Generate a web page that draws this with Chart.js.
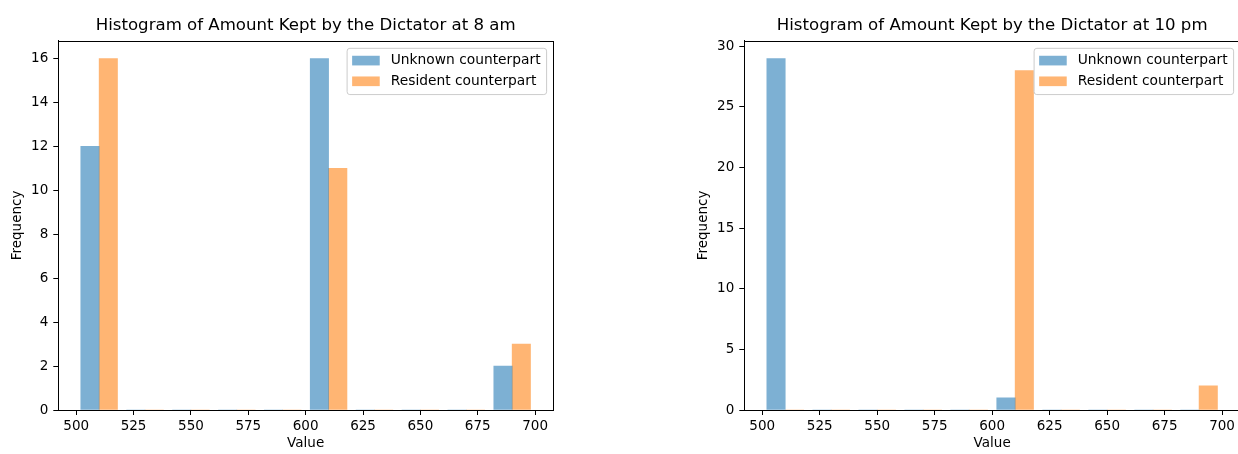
<!DOCTYPE html>
<html><head><meta charset="utf-8">
<script src="https://cdn.jsdelivr.net/npm/chart.js@4.4.0/dist/chart.umd.min.js"></script>
<style>
html,body{margin:0;padding:0;background:#fff;overflow:hidden;width:1238px;height:454px;position:relative;}
.box{position:absolute;top:0;height:454px;width:560px;}
#w1{left:0}
#w2{left:686px}
</style></head><body>
<div class="box" id="w1"><canvas id="c1" width="560" height="454"></canvas></div>
<div class="box" id="w2"><canvas id="c2" width="560" height="454"></canvas></div>
<script>
// ---- data ----
const binEdges = [500,520,540,560,580,600,620,640,660,680,700];
const seriesLabels = ['Unknown counterpart','Resident counterpart'];
const unknown8am   = [12,0,0,0,0,16,0,0,0,2];
const resident8am  = [16,0,0,0,0,11,0,0,0,3];
const unknown10pm  = [29,0,0,0,0,1,0,0,0,0];
const resident10pm = [0,0,0,0,0,28,0,0,0,2];
const titles = ['Histogram of Amount Kept by the Dictator at 8 am','Histogram of Amount Kept by the Dictator at 10 pm'];
const xTitle = 'Value';
const yTitle = 'Frequency';
const xStep = 25;
const yStep8am = 2;
const yStep10pm = 5;

// ---- styles ----
const FONT = 'DejaVu Sans';
const colors = ['rgba(31,119,180,0.58)','rgba(255,127,14,0.58)'];
Chart.defaults.font.family = FONT;
Chart.defaults.color = '#000';

function histChart(id, title, seriesA, seriesB, yStep, rightPad){
  // matplotlib-style side-by-side histogram layout (rwidth 0.8)
  const n = 2;
  const bars = [seriesA, seriesB];
  const datasets = bars.map((counts, k) => {
    const data = counts.map((c, i) => {
      const lo = binEdges[i], hi = binEdges[i+1], dx = hi - lo;
      const tot = dx * 0.8, dw = tot / n;
      const center = (lo + hi) / 2 - tot / 2 + dw / 2 + k * dw;
      return {x: center, y: c};
    });
    return {label: seriesLabels[k], data, backgroundColor: colors[k], borderWidth: 0,
            barPercentage: 1, categoryPercentage: 1, grouped: false};
  });
  const dx0 = binEdges[1] - binEdges[0];
  const dataMin = binEdges[0] + dx0 * 0.1;
  const dataMax = binEdges[binEdges.length-1] - dx0 * 0.1;
  const margin = (dataMax - dataMin) * 0.05;
  const yMax = Math.max(...seriesA, ...seriesB) * 1.05;
  const tickFont = {family: FONT, size: 13.5};

  const framePlugin = {
    id: 'frameLegend',
    afterDraw(chart){
      const ctx = chart.ctx, a = chart.chartArea;
      ctx.save();
      ctx.strokeStyle = '#000'; ctx.lineWidth = 1;
      ctx.strokeRect(Math.round(a.left)+0.5, Math.round(a.top)+0.5, Math.round(a.right)-Math.round(a.left), Math.round(a.bottom)-Math.round(a.top));
      // legend (upper right, inside axes)
      const fs = 13.8;
      ctx.font = fs + 'px "' + FONT + '"';
      const pad = 0.4*fs, hl = 2*fs, hh = 0.7*fs, htp = 0.8*fs, lsp = 0.45*fs, axp = 0.5*fs, rowH = 14.5;
      const tw = Math.max(...seriesLabels.map(s => ctx.measureText(s).width));
      const bw = 2*pad + hl + htp + tw;
      const bh = 2*pad + seriesLabels.length*rowH + (seriesLabels.length-1)*lsp;
      const bx = a.right - axp - bw, by = a.top + axp;
      ctx.beginPath();
      ctx.roundRect(bx+0.5, by+0.5, bw, bh, 0.2*fs);
      ctx.fillStyle = 'rgba(255,255,255,0.8)';
      ctx.fill();
      ctx.strokeStyle = '#cccccc';
      ctx.stroke();
      seriesLabels.forEach((s, i) => {
        const cy = by + pad + rowH/2 + i*(rowH + lsp);
        ctx.fillStyle = colors[i];
        ctx.fillRect(bx + pad, cy - hh/2, hl, hh);
        ctx.fillStyle = '#000';
        ctx.textBaseline = 'middle';
        ctx.textAlign = 'left';
        ctx.fillText(s, bx + pad + hl + htp, cy);
      });
      ctx.restore();
    }
  };

  return new Chart(document.getElementById(id), {
    type: 'bar',
    data: {datasets},
    plugins: [framePlugin],
    options: {
      responsive: false, animation: false, devicePixelRatio: 1,
      layout: {padding: {left: 0, right: rightPad, top: 0, bottom: 0}},
      plugins: {
        legend: {display: false},
        tooltip: {enabled: false},
        title: {display: true, text: title, fullSize: false, color: '#000',
                font: {family: FONT, size: 16.6, weight: 'normal'}, padding: {top: 16, bottom: 5}}
      },
      scales: {
        x: {
          type: 'linear', min: dataMin - margin, max: dataMax + margin, offset: false,
          grid: {display: true, drawOnChartArea: false, drawTicks: true, tickLength: 5, color: '#000', offset: false},
          border: {display: true, color: '#000', width: 1},
          ticks: {stepSize: xStep, includeBounds: false, font: tickFont, color: '#000', padding: 3, maxRotation: 0, autoSkip: false},
          title: {display: true, text: xTitle, font: tickFont, color: '#000', padding: {top: 0, bottom: 2}},
          afterFit(s){ s.height = 44; }
        },
        y: {
          type: 'linear', min: 0, max: yMax,
          grid: {display: true, drawOnChartArea: false, drawTicks: true, tickLength: 5, color: '#000'},
          border: {display: true, color: '#000', width: 1},
          ticks: {stepSize: yStep, includeBounds: false, font: tickFont, color: '#000', padding: 5},
          title: {display: true, text: yTitle, font: tickFont, color: '#000', padding: {top: 9, bottom: 0}},
          afterFit(s){ s.width = 58.3; }
        }
      }
    }
  });
}

histChart('c1', titles[0], unknown8am, resident8am, yStep8am, 7);
histChart('c2', titles[1], unknown10pm, resident10pm, yStep10pm, 6);
</script>
</body></html>
